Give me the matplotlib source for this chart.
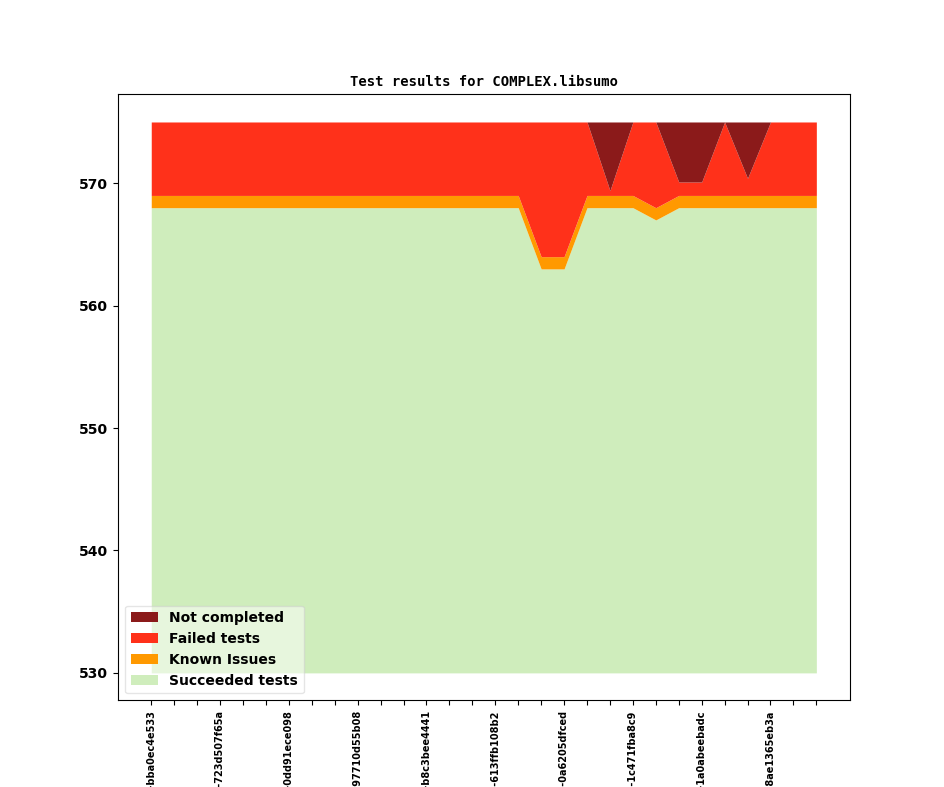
import matplotlib
matplotlib.use('Agg')
import matplotlib.pyplot as plt
import numpy as np

# test counts per build (stack order bottom -> top)
succeeded = [568, 568, 568, 568, 568, 568, 568, 568, 568, 568,
             568, 568, 568, 568, 568, 568, 568, 563, 563, 568,
             568, 568, 567, 568, 568, 568, 568, 568, 568, 568]
known_issues = [1] * 30
failed = [6, 6, 6, 6, 6, 6, 6, 6, 6, 6,
          6, 6, 6, 6, 6, 6, 6, 11, 11, 6,
          0.4, 6, 7, 1.1, 1.1, 6, 1.4, 6, 6, 6]
not_completed = [0, 0, 0, 0, 0, 0, 0, 0, 0, 0,
                 0, 0, 0, 0, 0, 0, 0, 0, 0, 0,
                 5.6, 0, 0, 4.9, 4.9, 0, 4.6, 0, 0, 0]

# every third build gets a label
commits = ['v1_20_0+0118-bba0ec4e533', 'v1_20_0+0204-723d507f65a',
           'v1_20_0+0291-0dd91ece098', 'v1_20_0+0377-97710d55b08',
           'v1_20_0+0452-b8c3bee4441', 'v1_20_0+0530-613ffb108b2',
           'v1_20_0+0611-0a6205dfced', 'v1_20_0+0698-1c471fba8c9',
           'v1_20_0+0770-1a0abeebadc', 'v1_20_0+0853-8ae1365eb3a']

base = 530
colors = ['#cfedbc', '#ff9900', '#ff311a', '#8b1a1a']
names = ['Succeeded tests', 'Known Issues', 'Failed tests', 'Not completed']

x = np.arange(len(succeeded))
series = [np.array(succeeded, dtype=float), np.array(known_issues, dtype=float),
          np.array(failed, dtype=float), np.array(not_completed, dtype=float)]

fig, ax = plt.subplots(figsize=(9.44, 7.87), dpi=100)

lower = np.full(len(x), base, dtype=float)
handles = []
for i, (vals, col, name) in enumerate(zip(series, colors, names)):
    # succeeded is drawn from the base up to its value, the rest stack on top
    upper = vals if i == 0 else lower + vals
    h = ax.fill_between(x, lower, upper, color=col, linewidth=0, label=name)
    handles.append(h)
    lower = upper

ax.set_title('Test results for COMPLEX.libsumo', fontsize=10, fontweight='bold', family='DejaVu Sans Mono')

labels = [''] * len(x)
for i, c in enumerate(commits):
    labels[i * 3] = c
ax.set_xticks(x)
ax.set_xticklabels(labels, rotation=90, fontsize=7, fontweight='bold')
ax.set_yticks([530, 540, 550, 560, 570])
for t in ax.get_yticklabels():
    t.set_fontweight('bold')

ax.legend(handles[::-1], names[::-1], loc='lower left', framealpha=0.5,
          prop={'weight': 'bold', 'size': 10})

plt.savefig('out.png', dpi=100)
